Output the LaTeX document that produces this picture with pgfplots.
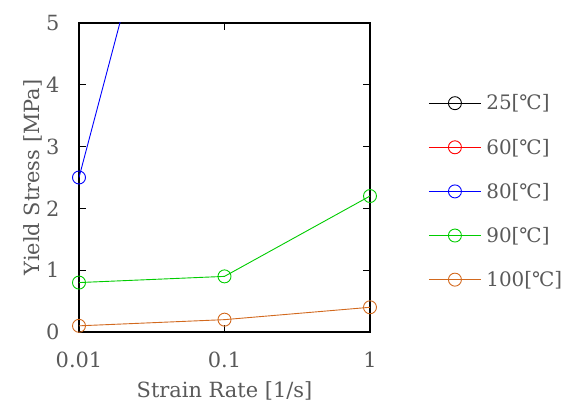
\documentclass[border=0pt]{standalone}
\usepackage{pgfplots}
\pgfplotsset{compat=1.18}
\usepackage{fontspec}
\setmainfont{DejaVu Serif}
\definecolor{txt}{RGB}{89,89,89}
\definecolor{cgreen}{RGB}{0,204,0}
\definecolor{corange}{RGB}{210,105,30}
\newcommand{\fs}{\fontsize{21}{25}\selectfont}
\newcommand{\fsl}{\fontsize{20}{24}\selectfont}
\begin{document}
\begin{tikzpicture}[x=1bp,y=1bp]
\path[use as bounding box] (-79,-75) rectangle (485,332);
\begin{axis}[
  at={(0,0)}, anchor=south west,
  scale only axis, width=291bp, height=309bp,
  xmode=log, xmin=0.01, xmax=1, ymin=0, ymax=5,
  xtick={0.01,0.1,1}, xticklabels={0.01,0.1,1},
  xminorticks=false,
  ytick={0,1,2,3,4,5},
  tick align=inside, major tick length=7.5bp,
  axis line style={line width=2bp},
  every tick/.style={black, line width=1.2bp},
  /pgf/number format/assume math mode=true,
  tick label style={font=\fs, text=txt},
  label style={font=\fs, text=txt},
  xticklabel shift=16bp, yticklabel shift=16bp,
  xlabel={Strain Rate [1/s]}, ylabel={Yield Stress [MPa]},
  xlabel style={at={(axis description cs:0.5,-0.1489)}, anchor=north},
  ylabel style={at={(axis description cs:-0.2027,0.5)}, anchor=north},
  every axis plot/.append style={line width=0.9bp, mark=o, mark size=6.5bp, mark options={fill=white, line width=0.9bp}},
  legend style={at={(1.19,0.781)}, anchor=north west, draw=none, fill=none,
    font=\fsl, text=txt, row sep=23.5bp, column sep=3bp},
  legend cell align=left,
  legend image code/.code={\draw[mark repeat=2,mark phase=2] plot coordinates {(0bp,0bp)(26bp,0bp)(52bp,0bp)};},
]
\addplot[black] coordinates {(0.01,20) (0.1,25) (1,30)};
\addlegendentry{25[℃]}
\addplot[red] coordinates {(0.01,12) (0.1,18) (1,24)};
\addlegendentry{60[℃]}
\addplot[blue] coordinates {(0.01,2.5) (0.1,11.4) (1,15)};
\addlegendentry{80[℃]}
\addplot[cgreen] coordinates {(0.01,0.8) (0.1,0.9) (1,2.2)};
\addlegendentry{90[℃]}
\addplot[corange] coordinates {(0.01,0.1) (0.1,0.2) (1,0.4)};
\addlegendentry{100[℃]}
\end{axis}
\end{tikzpicture}
\end{document}
